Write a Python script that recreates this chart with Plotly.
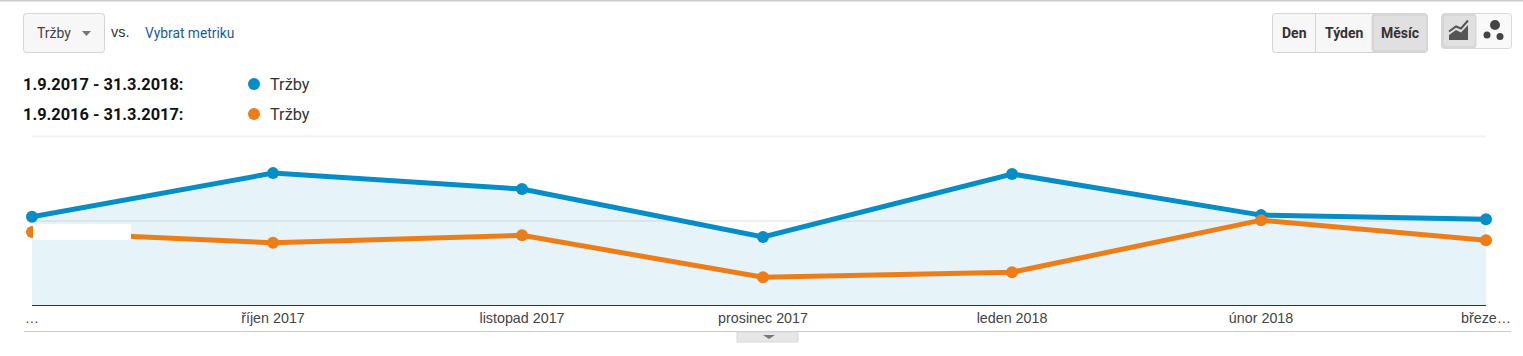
import plotly.graph_objects as go

dates = ["2017-09-01", "2017-10-01", "2017-11-01", "2017-12-01", "2018-01-01", "2018-02-01", "2018-03-01"]
tick_labels = ["…", "říjen 2017", "listopad 2017", "prosinec 2017", "leden 2018", "únor 2018", "březe…"]
current_revenue = [1.05, 1.57, 1.38, 0.81, 1.56, 1.07, 1.02]
previous_revenue = [0.87, 0.74, 0.83, 0.33, 0.39, 1.01, 0.77]
current_label = "1.9.2017 - 31.3.2018:"
previous_label = "1.9.2016 - 31.3.2017:"
metric = "Tržby"

BLUE = "#058dc7"
ORANGE = "#ed7e17"
L, T, W, H = 32, 137, 1454, 168


def px(x):
    return (x - L) / W


def py(y):
    return (T + H - y) / H


shapes, annots = [], []


def rect(x0, y0, x1, y1, fill, line=None, r=0):
    if r:
        a, b, c, d = px(x0), py(y0), px(x1), py(y1)
        rx, ry = r / W, r / H
        path = (f"M{a+rx},{b} L{c-rx},{b} Q{c},{b} {c},{b-ry} L{c},{d+ry} Q{c},{d} {c-rx},{d} "
                f"L{a+rx},{d} Q{a},{d} {a},{d+ry} L{a},{b-ry} Q{a},{b} {a+rx},{b} Z")
        shapes.append(dict(type="path", xref="paper", yref="paper", path=path, fillcolor=fill,
                           line=dict(color=line or fill, width=1), layer="above"))
    else:
        shapes.append(dict(type="rect", xref="paper", yref="paper", x0=px(x0), x1=px(x1), y0=py(y0), y1=py(y1),
                           fillcolor=fill, line=dict(color=line or fill, width=1 if line else 0), layer="above"))


def poly(points, fill):
    d = "M" + " L".join(f"{px(a)},{py(b)}" for a, b in points) + " Z"
    shapes.append(dict(type="path", xref="paper", yref="paper", path=d, fillcolor=fill,
                       line=dict(width=0), layer="above"))


def polyline(points, color, width):
    d = "M" + " L".join(f"{px(a)},{py(b)}" for a, b in points)
    shapes.append(dict(type="path", xref="paper", yref="paper", path=d,
                       line=dict(color=color, width=width), layer="above"))


def circle(cx, cy, r, fill):
    shapes.append(dict(type="circle", xref="paper", yref="paper", x0=px(cx - r), x1=px(cx + r),
                       y0=py(cy + r), y1=py(cy - r), fillcolor=fill, line=dict(width=0), layer="above"))


def label(x, y, s, size=14, color="#333", family="Roboto", anchor="left", bold=False):
    annots.append(dict(xref="paper", yref="paper", x=px(x), y=py(y), text=f"<b>{s}</b>" if bold else s,
                       showarrow=False, xanchor=anchor, yanchor="middle", xshift=0,
                       font=dict(size=size, color=color, family=family), borderpad=0, borderwidth=0))


# frame rules
rect(0, 0, 1523, 1.5, "#cccccc")
rect(24, 331, 1511, 332, "#cccccc")

# metric selector
rect(23.5, 13.5, 104.5, 52.5, "#f7f7f7", "#d4d4d4", 3)
label(37, 33, metric, 14, "#444444")
poly([(82, 31), (91, 31), (86.5, 36)], "#777777")
label(111, 31.5, "vs.", 14.5, "#333333", family="Liberation Sans")
label(145, 33, "Vybrat metriku", 13.8, "#1a5a9e")

# legend
label(23, 84, current_label, 16.4, "#111111", bold=True)
label(23, 114, previous_label, 16.4, "#111111", bold=True)
circle(254, 84, 6, BLUE)
circle(254, 114, 6, ORANGE)
label(270, 84, metric, 16.3, "#333333")
label(270, 114, metric, 16.3, "#333333")

# period buttons
rect(1272.5, 13.5, 1427.5, 52.5, "#f7f7f7", "#d4d4d4", 3)
rect(1372, 14, 1427, 52, "#d6d6d6", None, 3)
rect(1374, 16, 1426, 50, "#e0e0e0")
rect(1315, 14, 1316, 52, "#d4d4d4")
label(1294, 33, "Den", 14, "#333333", anchor="center", bold=True)
label(1344, 33, "Týden", 14, "#333333", anchor="center", bold=True)
label(1400, 33, "Měsíc", 14, "#333333", anchor="center", bold=True)

# chart type buttons
rect(1441.5, 13.5, 1511.5, 48.5, "#f9f9f9", "#d8d8d8", 3)
rect(1442, 14, 1476, 48, "#d6d6d6", None, 3)
rect(1444, 16, 1475, 46, "#e0e0e0")
poly([(1449, 40), (1449, 35), (1456, 30), (1461, 32.5), (1468, 25), (1468, 40)], "#555555")
polyline([(1449, 31.5), (1456, 26.5), (1461, 28.5), (1468, 20.5)], "#555555", 2)
circle(1495, 25, 5, "#444444")
circle(1487, 35, 3.5, "#444444")
circle(1500, 36.5, 3.5, "#444444")

# expand tab
rect(737, 332, 798, 342, "#e6e6e6", "#d8d8d8")
poly([(763, 335), (775, 335), (769, 339)], "#777777")

# top grid rule and white patch on the chart
rect(32, 135.5, 1486, 137.5, "#f2f2f2")
rect(33, 224, 131, 240, "#ffffff")

fig = go.Figure()
fig.add_trace(go.Scatter(x=dates, y=current_revenue, mode="lines+markers", name=metric,
                         line=dict(color=BLUE, width=5), marker=dict(size=12, color=BLUE),
                         fill="tozeroy", fillcolor="rgba(5,141,199,0.10)", cliponaxis=False))
fig.add_trace(go.Scatter(x=dates, y=previous_revenue, mode="lines+markers", name=metric,
                         line=dict(color=ORANGE, width=5), marker=dict(size=12, color=ORANGE),
                         cliponaxis=False))
fig.update_layout(
    width=1523, height=356, margin=dict(l=L, r=1523 - L - W, t=T, b=356 - T - H),
    paper_bgcolor="white", plot_bgcolor="white", showlegend=False, shapes=shapes, annotations=annots,
    xaxis=dict(type="date", range=[dates[0], dates[-1]], tickmode="array", tickvals=dates, ticktext=tick_labels,
               showgrid=False, showline=True, linecolor="#333333", linewidth=1, ticks="",
               tickfont=dict(family="Liberation Sans", size=14.3, color="#444444")),
    yaxis=dict(range=[0, 2], tickvals=[0, 1, 2], showticklabels=False, showgrid=True, gridcolor="#f0f0f0",
               gridwidth=2, zeroline=False, ticks=""),
)
fig.write_html("out.html", config=dict(displayModeBar=False),
               post_script="document.body.style.margin='0';document.body.style.overflow='hidden';")
